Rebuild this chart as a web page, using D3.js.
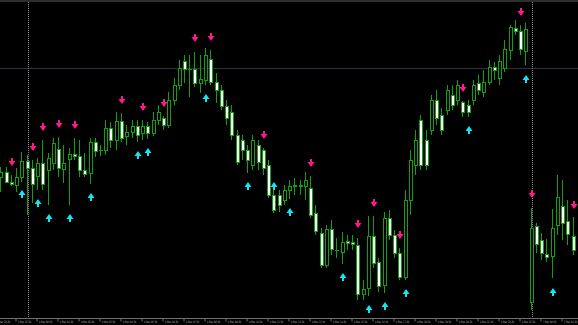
<!DOCTYPE html>
<html><head><meta charset="utf-8">
<script src="https://cdn.jsdelivr.net/npm/d3@7"></script>
<style>html,body{margin:0;padding:0;background:#000;overflow:hidden}</style>
</head><body><svg id="c" width="578" height="325"></svg>
<script>
// Prices in points (1 point = 0.0001, base 1.0000): 823 -> 1.0823
const open  = [823,828,818,815,823,839,832,824,837,830,837,851,831,841,846,844,830,827,858,850,
               850,872,860,879,864,868,874,867,874,867,880,882,875,900,915,939,931,931,917,920,
               941,918,910,894,888,865,860,850,835,855,850,835,805,805,800,810,814,815,814,812,
               787,767,735,771,750,748,759,758,755,706,712,764,738,715,782,765,747,723,800,835,
               880,860,870,900,885,890,905,900,898,895,900,917,908,918,933,922,932,950,972,969,
               949,698,774,760,746,744,775,794,779,764];
const high  = [833,833,825,832,848,845,840,842,860,847,862,863,855,852,862,860,847,862,862,855,
               880,878,888,887,875,880,880,880,878,888,895,884,908,922,940,945,945,948,945,952,
               950,927,915,900,895,870,865,855,865,860,852,840,815,810,815,820,822,820,828,824,
               795,772,775,780,762,768,765,765,762,720,784,784,742,788,790,770,752,810,850,870,
               885,870,905,910,892,915,915,920,899,900,920,925,930,940,938,945,960,975,980,975,
               977,792,777,767,761,791,825,820,800,783];
const low   = [808,817,814,808,818,785,797,810,810,795,830,823,817,795,840,823,823,816,843,844,
               845,852,850,858,855,862,858,860,861,864,875,870,872,895,910,917,903,913,907,915,
               915,897,890,875,860,835,840,827,830,830,825,802,787,788,795,801,805,805,800,782,
               765,732,732,745,742,736,750,750,700,700,704,732,708,707,760,742,720,720,785,825,
               830,830,865,875,865,885,890,895,883,883,895,905,903,915,920,915,928,940,965,945,
               935,690,747,740,738,722,765,760,755,745];
const close = [828,818,816,823,839,832,816,837,816,842,857,832,837,846,844,830,826,858,849,850,
               872,860,879,862,868,874,865,874,867,880,888,875,900,915,932,931,931,917,921,945,
               918,910,894,882,865,838,850,840,860,838,832,805,790,795,810,814,815,814,820,785,
               769,735,771,751,750,758,757,756,706,711,764,737,714,782,765,747,723,800,840,860,
               835,835,900,882,870,910,895,915,888,888,915,910,918,933,930,939,951,973,969,951,
               971,772,756,747,743,772,803,777,766,750];

// Signal arrows: bar index and price level (points) where each arrow is drawn
const sellBars   = [2,6,8,11,14,23,27,31,37,40,50,59,68,71,76,88,99,101,109];
const sellLevels = [838,853,873,876,875,900,893,897,962,963,865,837,776,797,765,912,988,806,795];
const buyBars    = [4,7,9,13,17,26,28,39,47,52,55,65,70,73,77,89,100,105];
const buyLevels  = [806,797,782,782,803,845,848,902,814,814,788,723,691,694,707,870,921,708];

// Day separators and a horizontal price line
const separatorBars = [5,101];
const priceLine = 932;

// Time axis: a label every 4 bars (15-minute bars)
const tickBars = [-1,3,7,11,15,19,23,27,31,35,39,43,47,51,55,59,63,67,71,75,79,83,87,91,95,99,103,107];
const tickLabels = ["5 Mar 22:30","5 Mar 23:30","6 Mar 00:30","6 Mar 01:30","6 Mar 02:30","6 Mar 03:30",
  "6 Mar 04:30","6 Mar 05:30","6 Mar 06:30","6 Mar 07:30","6 Mar 08:30","6 Mar 09:30","6 Mar 10:30",
  "6 Mar 11:30","6 Mar 12:30","6 Mar 13:30","6 Mar 14:30","6 Mar 15:30","6 Mar 16:30","6 Mar 17:30",
  "6 Mar 18:30","6 Mar 19:30","6 Mar 20:30","6 Mar 21:30","6 Mar 22:30","6 Mar 23:30","7 Mar 00:30","7 Mar 01:30"];

const W = 578, H = 325, AXIS_Y = 318;
const GREEN = "#12a012", PINK = "#ff1a8c", CYAN = "#14e6f0";
const svg = d3.select("#c");
svg.append("rect").attr("width",W).attr("height",H).attr("fill","#000");

const x = d3.scaleLinear().domain([0,101]).range([1.25,531.5]);
const y = d3.scaleLinear().domain([675,1000]).range([325,0]);

// top border
svg.append("rect").attr("x",0).attr("y",0).attr("width",W).attr("height",2).attr("fill","#2e2e2e");

// horizontal price line
svg.append("line").attr("x1",0).attr("x2",W)
  .attr("y1",Math.round(y(priceLine))+0.5).attr("y2",Math.round(y(priceLine))+0.5)
  .attr("stroke","#2a3440").attr("stroke-width",1);

// separators
svg.append("g").selectAll("line").data(separatorBars).join("line")
  .attr("x1",d=>Math.round(x(d))+0.5).attr("x2",d=>Math.round(x(d))+0.5)
  .attr("y1",2).attr("y2",AXIS_Y)
  .attr("stroke","#8a8a8a").attr("stroke-width",1).attr("stroke-dasharray","1,1");

// candles
const bars = open.map((o,i)=>({i,o,h:high[i],l:low[i],c:close[i]}));
const left = d=>Math.round(x(d.i)-2);
const cg = svg.append("g").selectAll("g").data(bars).join("g");
cg.append("line")
  .attr("x1",d=>left(d)+1.5).attr("x2",d=>left(d)+1.5)
  .attr("y1",d=>Math.round(y(d.h))).attr("y2",d=>Math.round(y(d.l)))
  .attr("stroke",GREEN).attr("stroke-width",1);
cg.filter(d=>Math.abs(d.o-d.c)>=1).append("rect")
  .attr("x",d=>left(d)+0.5).attr("width",3)
  .attr("y",d=>Math.round(y(Math.max(d.o,d.c)))+0.5)
  .attr("height",d=>Math.max(1,Math.round(y(Math.min(d.o,d.c)))-Math.round(y(Math.max(d.o,d.c)))))
  .attr("fill",d=>d.c<d.o?"#ffffff":"#000000")
  .attr("stroke",GREEN).attr("stroke-width",1);
cg.filter(d=>Math.abs(d.o-d.c)<1).append("line")
  .attr("x1",d=>left(d)).attr("x2",d=>left(d)+4)
  .attr("y1",d=>Math.round(y(d.o))+0.5).attr("y2",d=>Math.round(y(d.o))+0.5)
  .attr("stroke",GREEN).attr("stroke-width",1);

// arrows
function downArrow(cx,cy){
  return `M${cx-1},${cy-4}H${cx+1}V${cy-1}H${cx+3.5}L${cx},${cy+4}L${cx-3.5},${cy-1}H${cx-1}Z`;
}
function upArrow(cx,cy){
  return `M${cx-1},${cy+4}H${cx+1}V${cy+1}H${cx+3.5}L${cx},${cy-4}L${cx-3.5},${cy+1}H${cx-1}Z`;
}
svg.append("g").selectAll("path").data(sellBars.map((b,k)=>({b,v:sellLevels[k]}))).join("path")
  .attr("d",d=>downArrow(Math.round(x(d.b)-2)+2,Math.round(y(d.v))))
  .attr("fill",PINK);
svg.append("g").selectAll("path").data(buyBars.map((b,k)=>({b,v:buyLevels[k]}))).join("path")
  .attr("d",d=>upArrow(Math.round(x(d.b)-2)+2,Math.round(y(d.v))))
  .attr("fill",CYAN);

// time axis
svg.append("rect").attr("x",0).attr("y",AXIS_Y+1).attr("width",W).attr("height",H-AXIS_Y-1).attr("fill","#000");
const axis = d3.axisBottom(x).tickValues(tickBars).tickSize(3).tickPadding(0)
  .tickFormat((d,k)=>tickLabels[k]);
const ag = svg.append("g").attr("transform",`translate(0,${AXIS_Y+0.5})`).call(axis);
ag.select(".domain").attr("stroke","#707070").attr("d",`M0,0H${W}`);
ag.selectAll(".tick line").attr("stroke","#707070").attr("transform","translate(-1.5,0)");
ag.selectAll(".tick text").attr("fill","#b8b8b8").attr("font-size","3.2px")
  .attr("font-family","DejaVu Sans, sans-serif").attr("text-anchor","start")
  .attr("x",0.5).attr("dy","0").attr("y",4.2)
  .attr("textLength",13.2).attr("lengthAdjust","spacingAndGlyphs");
</script></body></html>
